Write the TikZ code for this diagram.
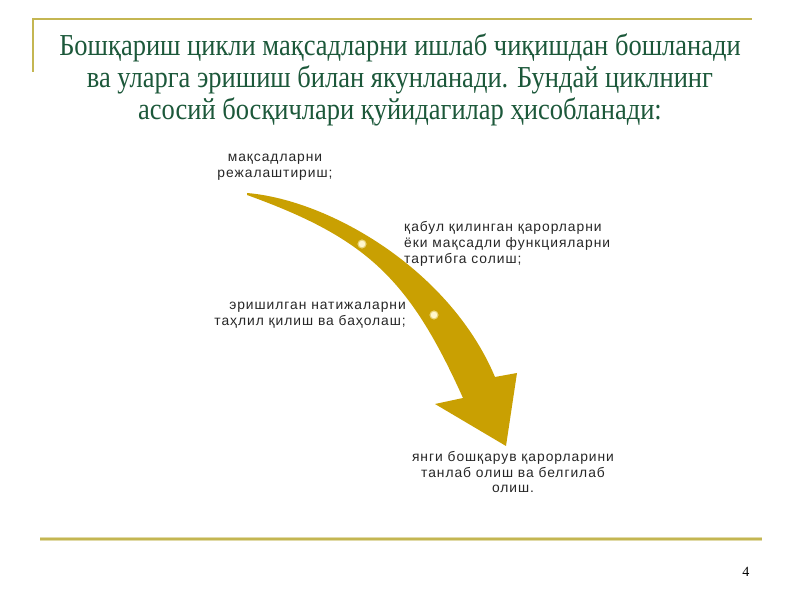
\documentclass[tikz,border=0pt]{standalone}
\usepackage{fontspec}
\setmainfont{Liberation Serif}
\newfontfamily\titrefont[FakeStretch=0.87]{Liberation Serif}
\newfontfamily\etiquettefont[LetterSpace=7]{Liberation Sans}
\usepackage{tikz}
\usetikzlibrary{calc}
\definecolor{vertfonce}{RGB}{28,88,58}
\definecolor{orfleche}{RGB}{201,160,2}
\definecolor{orligne}{RGB}{196,182,82}
\definecolor{creme}{RGB}{255,247,205}
\definecolor{anneau}{RGB}{232,212,120}
\tikzstyle{titre} = [text=vertfonce, align=center, font=\titrefont\fontsize{26}{27.4}\selectfont, inner sep=0pt]
\tikzstyle{etape} = [text=black!85, font=\etiquettefont\fontsize{11.8}{13.6}\selectfont, inner sep=0pt]
\tikzstyle{point} = [circle, fill=creme, draw=anneau, line width=0.9pt, minimum size=0.24cm, inner sep=0pt]

\begin{document}
\begin{tikzpicture}[x=0.03cm, y=-0.03cm]
        \useasboundingbox (0,0) rectangle (800,600);

        %% cadre
        \draw[orligne, line width=1.6pt] (33,72) -- (33,19) -- (752,19);
        \draw[orligne!50, line width=4pt] (40,539) -- (762,539);
        \draw[orligne, line width=2pt] (40,539) -- (762,539);

        %% titre
        \node (T) [titre, anchor=center] at (400,80) {Бошқариш цикли мақсадларни ишлаб чиқишдан бошланади\\
            ва уларга эришиш билан якунланади. Бундай циклнинг\\
            асосий босқичлари қуйидагилар ҳисобланади:};

        %% fleche
        \fill[orfleche] (247,193) .. controls (330,200) and (450,270) .. (495,377)
            -- (517,373) -- (506,446) -- (435,404) -- (463,398)
            .. controls (409,278) and (366,238) .. (247,195) -- cycle;

        \node (D1) [point] at (362,244) {};
        \node (D2) [point] at (434,315) {};

        %% etapes
        \node (E1) [etape, align=center, anchor=center] at (275,167) {мақсадларни\\ режалаштириш;};
        \node (E2) [etape, align=left, anchor=west] at (404,244) {қабул қилинган қарорларни\\ ёки мақсадли функцияларни\\ тартибга солиш;};
        \node (E3) [etape, align=right, anchor=east] at (406,315) {эришилган натижаларни\\ таҳлил қилиш ва баҳолаш;};
        \node (E4) [etape, align=center, anchor=center] at (513,472) {янги бошқарув қарорларини\\ танлаб олиш ва белгилаб\\ олиш.};

        %% page
        \node (P) [inner sep=0pt, font=\fontsize{12}{14}\selectfont] at (746,572) {4};

    \end{tikzpicture}
\end{document}
